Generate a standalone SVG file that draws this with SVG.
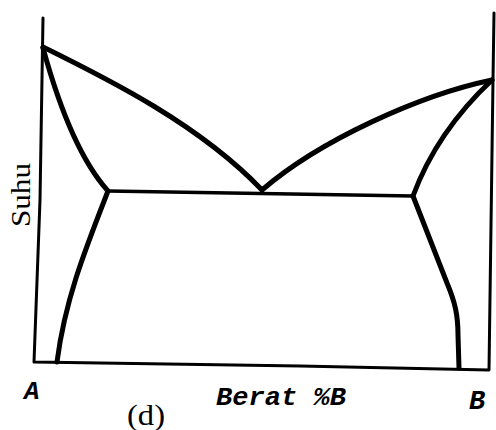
<svg xmlns="http://www.w3.org/2000/svg" width="496" height="430" viewBox="0 0 496 430">
<style>
.ax{fill:none;stroke:#000;stroke-width:3;stroke-linecap:round;stroke-linejoin:round}
.cv{fill:none;stroke:#000;stroke-width:5;stroke-linecap:round;stroke-linejoin:round}
.eu{fill:none;stroke:#000;stroke-width:3.5;stroke-linecap:round}
.lbl{font-family:"Liberation Mono",monospace;font-style:italic;font-weight:bold;fill:#000}
</style>
<rect width="496" height="430" fill="#fff"/>
<g id="axes">
<path class="ax" d="M43,18 L40,200 L34,362 L300,366 L489,370 L493,80 L494,13"/>
</g>
<g id="connectors">
<path class="cv" d="M43,47 C110,80 200,125 262,190"/>
<path class="cv" d="M262,190 C320,140 420,95 492,80"/>
<path class="cv" d="M43,48 C60,110 80,160 108,191"/>
<path class="eu" d="M108,191 L413,196"/>
<path class="cv" d="M108,191 C85,250 65,300 57,362"/>
<path class="cv" d="M413,196 C430,150 460,110 492,80"/>
<path class="cv" d="M413,196 L447,283 C455,302 458,315 458,335 L459,368"/>
</g>
<g id="labels">
<text transform="translate(30,227) rotate(-90)" font-family="Liberation Serif, serif" font-size="27" textLength="64" lengthAdjust="spacingAndGlyphs">Suhu</text>
<text class="lbl" x="24" y="399" font-size="26">A</text>
<text class="lbl" x="216" y="405" font-size="26" textLength="130" lengthAdjust="spacingAndGlyphs">Berat %B</text>
<text class="lbl" x="469" y="409" font-size="27">B</text>
<text x="127" y="425" font-family="Liberation Serif, serif" font-size="29" textLength="38" lengthAdjust="spacingAndGlyphs">(d)</text>
</g>
</svg>
